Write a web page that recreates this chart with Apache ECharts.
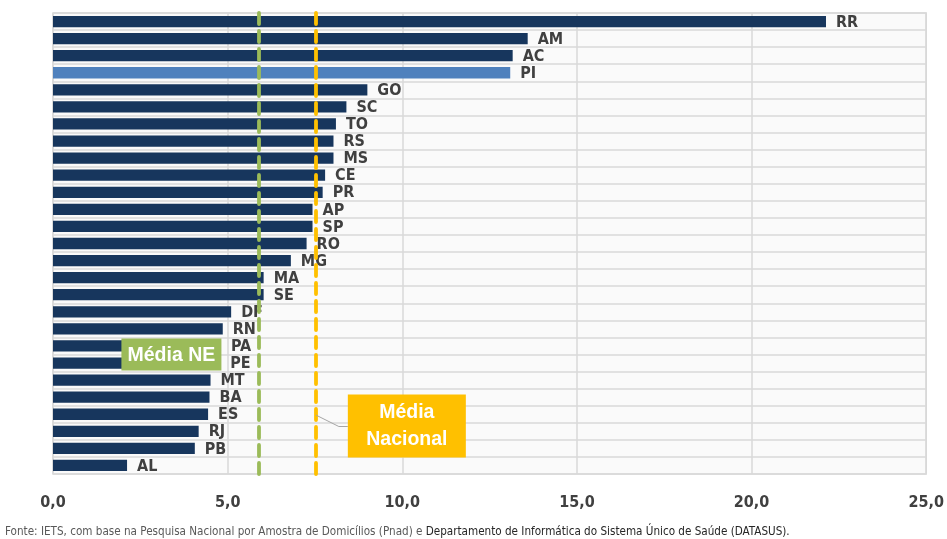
<!DOCTYPE html>
<html><head><meta charset="utf-8">
<script src="https://cdn.jsdelivr.net/npm/echarts@6/dist/echarts.min.js"></script>
<style>html,body{margin:0;padding:0;background:#fff}#c{width:947px;height:539px}</style>
</head><body><div id="c"></div>
<script>
const categories = ['RR','AM','AC','PI','GO','SC','TO','RS','MS','CE','PR','AP','SP','RO','MG','MA','SE','DF','RN','PA','PE','MT','BA','ES','RJ','PB','AL'];
const values = [22.13,13.59,13.16,13.09,9.0,8.4,8.1,8.03,8.03,7.79,7.72,7.43,7.43,7.26,6.81,6.03,6.03,5.1,4.86,4.81,4.79,4.51,4.48,4.44,4.17,4.06,2.12];
const highlighted = 'PI';
const mediaNE = 5.88;
const mediaNacional = 7.53;
const xMin = 0, xMax = 25, xStep = 5;
const labelNE = 'Média NE';
const labelNacional = 'Média\nNacional';
const sourcePart1 = 'Fonte: IETS, com base na Pesquisa Nacional por Amostra de Domicílios (Pnad) e ';
const sourcePart2 = 'Departamento de Informática do Sistema Único de Saúde (DATASUS).';

const NARROW = "'Liberation Sans Narrow','DejaVu Sans Condensed',sans-serif";
const chart = echarts.init(document.getElementById('c'), null, {renderer:'canvas'});
const option = {
  animation: false,
  grid: {left: 53, right: 17, top: 13, bottom: 65, show: true, backgroundColor: '#fafafa', borderColor: '#d9d9d9', borderWidth: 1.5},
  xAxis: {
    type: 'value', min: xMin, max: xMax, interval: xStep,
    axisLine: {show: false}, axisTick: {show: false},
    splitLine: {lineStyle: {color: '#d9d9d9', width: 1.5}},
    axisLabel: {margin: 21, fontFamily: NARROW, fontWeight: 'bold', fontSize: 16, color: '#404040',
      formatter: v => v.toFixed(1).replace('.', ',')}
  },
  yAxis: {
    type: 'category', data: categories, inverse: true,
    axisLine: {show: false}, axisTick: {show: false}, axisLabel: {show: false},
    splitLine: {show: true, lineStyle: {color: '#d9d9d9', width: 1.5}}
  },
  series: [{
    type: 'bar', barWidth: '66%',
    data: values.map((v, i) => ({value: v, itemStyle: {color: categories[i] === highlighted ? '#4F81BD' : '#17365D'}})),
    label: {show: true, position: 'right', distance: 10, formatter: '{b}', fontFamily: NARROW, fontWeight: 'bold', fontSize: 16, color: '#404040', offset: [0, 1]},
    markLine: {
      silent: true, symbol: 'none', label: {show: false},
      lineStyle: {type: [11, 7], width: 3.8, cap: 'round'},
      data: [
        {xAxis: mediaNE, lineStyle: {color: '#9BBB59', type: [11, 7], width: 3.8, cap: 'round'}},
        {xAxis: mediaNacional, lineStyle: {color: '#FFC000', type: [11, 7], width: 3.8, cap: 'round'}}
      ]
    }
  }]
};
chart.setOption(option);

function px(x, catIdx) {
  const a = chart.convertToPixel({gridIndex: 0}, [x, categories[Math.floor(catIdx)]]);
  const b = chart.convertToPixel({gridIndex: 0}, [x, categories[Math.ceil(catIdx)]]);
  const f = catIdx - Math.floor(catIdx);
  return [a[0], a[1] + (b[1] - a[1]) * f];
}
const ne = px(3.39, 19.5);
const nac = px(10.13, 23.66);
const lineStart = px(mediaNacional, 23.05);
const nacLeft = nac[0] - 59;
chart.setOption({
  graphic: [
    {type: 'rect', shape: {x: ne[0] - 50, y: ne[1] - 16, width: 100, height: 32}, style: {fill: '#9BBB59'}, z: 100},
    {type: 'text', x: ne[0], y: ne[1] + 1, z: 101, style: {text: labelNE, fill: '#fff', font: "bold 19.5px 'Liberation Sans',sans-serif", align: 'center', verticalAlign: 'middle'}},
    {type: 'polyline', shape: {points: [[lineStart[0], lineStart[1]], [nacLeft - 9, nac[1] + 1], [nacLeft, nac[1] + 1]]}, style: {stroke: '#a6a6a6', lineWidth: 1, fill: null}, z: 99},
    {type: 'rect', shape: {x: nacLeft, y: nac[1] - 31, width: 118, height: 63}, style: {fill: '#FFC000'}, z: 100},
    {type: 'text', x: nac[0], y: nac[1] + 1, z: 101, style: {text: labelNacional, fill: '#fff', font: "bold 19.5px 'Liberation Sans',sans-serif", align: 'center', verticalAlign: 'middle', lineHeight: 27}},
    {type: 'text', left: 5, top: 526, z: 101, style: {
      text: '{a|' + sourcePart1 + '}{b|' + sourcePart2 + '}',
      rich: {a: {fill: '#595959', fontSize: 11.6, fontFamily: NARROW}, b: {fill: '#262626', fontSize: 11.6, fontFamily: NARROW}}
    }}
  ]
});
</script></body></html>
